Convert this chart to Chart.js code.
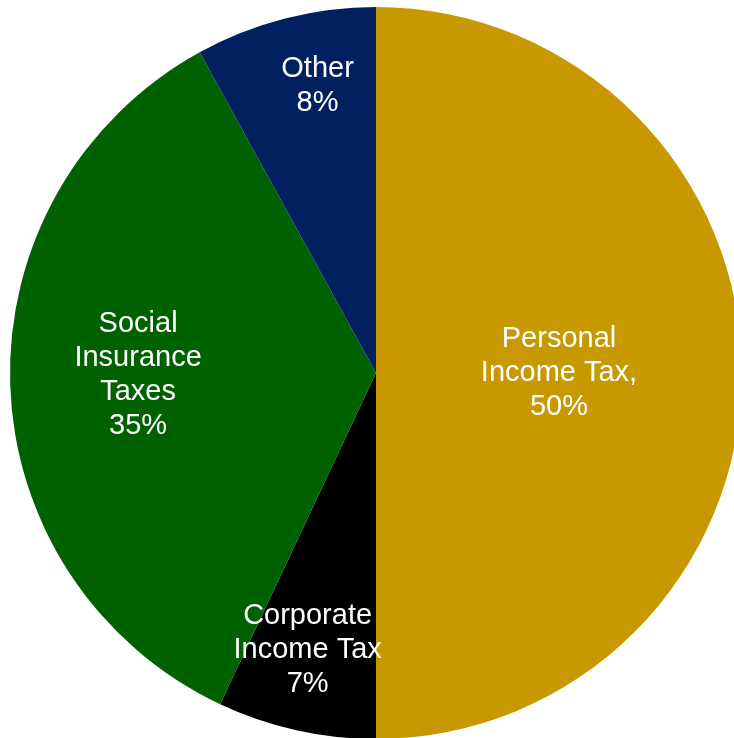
<!DOCTYPE html>
<html>
<head>
<meta charset="utf-8">
<script src="https://cdn.jsdelivr.net/npm/chart.js@4"></script>
<style>
  html, body { margin: 0; padding: 0; background: #ffffff; overflow: hidden; }
  #wrap { position: absolute; left: 0; top: 0; width: 752px; height: 746px; }
</style>
</head>
<body>
<div id="wrap"><canvas id="pie"></canvas></div>
<script>
// Federal revenue sources, share of total
const categories = ['Personal Income Tax', 'Corporate Income Tax', 'Social Insurance Taxes', 'Other'];
const shares = [50, 7, 35, 8];
const labelLines = [
  ['Personal', 'Income Tax,', '50%'],
  ['Corporate', 'Income Tax', '7%'],
  ['Social', 'Insurance', 'Taxes', '35%'],
  ['Other', '8%']
];
const sliceColors = ['#C89800', '#000000', '#006100', '#002060'];

// where each label sits: fraction of radius, fraction of the slice's sweep
const labelPlacement = [
  { r: 0.50, a: 0.50 },
  { r: 0.78, a: 0.55 },
  { r: 0.65, a: 0.51 },
  { r: 0.80, a: 0.60 }
];

const sliceLabels = {
  id: 'sliceLabels',
  afterDatasetsDraw(chart) {
    const ctx = chart.ctx;
    const meta = chart.getDatasetMeta(0);
    ctx.save();
    ctx.fillStyle = '#ffffff';
    ctx.font = '29px "Liberation Sans", Arial, sans-serif';
    ctx.textAlign = 'center';
    ctx.textBaseline = 'middle';
    const lineH = 34;
    meta.data.forEach((arc, i) => {
      const p = arc.getProps(['x', 'y', 'startAngle', 'endAngle', 'outerRadius'], true);
      const pl = labelPlacement[i];
      const ang = p.startAngle + (p.endAngle - p.startAngle) * pl.a;
      const cx = p.x + Math.cos(ang) * p.outerRadius * pl.r;
      const cy = p.y + Math.sin(ang) * p.outerRadius * pl.r;
      const lines = labelLines[i];
      const top = cy - (lines.length - 1) * lineH / 2;
      lines.forEach((t, k) => ctx.fillText(t, cx, top + k * lineH));
    });
    ctx.restore();
  }
};

new Chart(document.getElementById('pie'), {
  type: 'pie',
  data: {
    labels: categories,
    datasets: [{
      data: shares,
      backgroundColor: sliceColors,
      borderWidth: 0
    }]
  },
  options: {
    responsive: true,
    maintainAspectRatio: false,
    animation: false,
    layout: { padding: 7 },
    plugins: {
      legend: { display: false },
      tooltip: { enabled: false }
    }
  },
  plugins: [sliceLabels]
});
</script>
</body>
</html>
